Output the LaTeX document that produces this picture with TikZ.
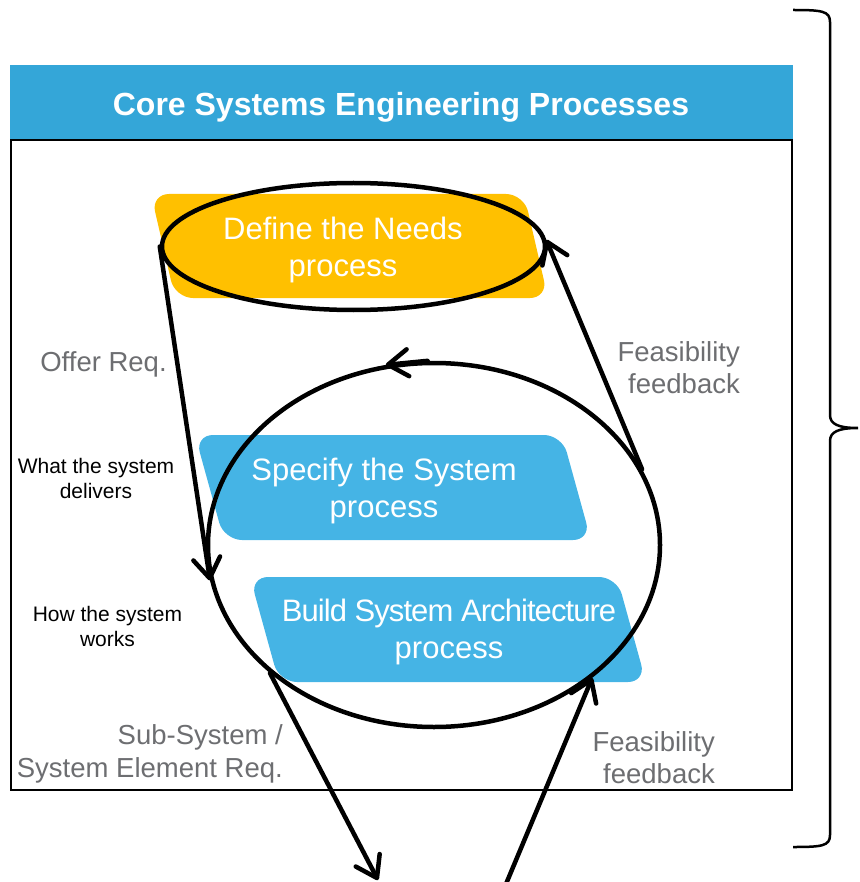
\documentclass[tikz,border=0pt]{standalone}
\usepackage{fontspec}
\setmainfont{Liberation Sans}
\newfontfamily\tightsans[LetterSpace=-3]{Liberation Sans}
\usetikzlibrary{arrows.meta,shapes.geometric}
\definecolor{needsyellow}{HTML}{FFC000}
\definecolor{procblue}{HTML}{45B4E5}
\definecolor{headblue}{HTML}{34A6D8}
\definecolor{lblgray}{HTML}{6D6E71}
\pgfdeclarelayer{bg}
\pgfsetlayers{bg,main}

\begin{document}
\begin{tikzpicture}[x=1pt,y=-1pt,
        proc/.style={text=white,align=center,font=\fontsize{31}{37.5}\selectfont},
        lbl/.style={text=lblgray,inner sep=0pt,font=\fontsize{27.5}{32.5}\selectfont},
        note/.style={inner sep=0pt,align=center,font=\fontsize{21}{25}\selectfont},
        ring/.style={draw,ellipse,line width=4.5pt,inner sep=0pt},
        flow/.style={line width=4.5pt,line cap=round,-{Straight Barb[length=20pt,width=27pt,line cap=round,line join=round]}}]
        \useasboundingbox (0,0) rectangle (859,882);
        \fill[headblue] (10,65) rectangle (793,140);
        \draw[line width=2pt] (11,140) rectangle (792,790);
        \node (title) [text=white,font=\bfseries\fontsize{32}{38}\selectfont] at (401,107) {Core Systems Engineering Processes};
        \draw[line width=2.5pt] (793,10) .. controls (822,10) and (830,11) .. (830,22) -- (830,415)
                .. controls (830,424) and (838,428) .. (858,428) .. controls (838,428) and (830,432) .. (830,441)
                -- (830,835) .. controls (830,846) and (822,847) .. (793,847);
        \begin{pgfonlayer}{bg}
                \fill[needsyellow,rounded corners=18pt] (151,194) -- (524,194) -- (548,298) -- (175,298) -- cycle;
                \fill[procblue,rounded corners=18pt] (195,435) -- (562,435) -- (591,540) -- (224,540) -- cycle;
                \fill[procblue,rounded corners=18pt] (250,577) -- (617,577) -- (646,682) -- (279,682) -- cycle;
        \end{pgfonlayer}
        \node (needstxt) [proc] at (343,250) {Define the Needs\\process};
        \node (spectxt) [proc] at (384,491) {Specify the System\\process};
        \node (archtxt) [proc] at (449,632) {{\tightsans Build System Architecture}\\process};
        \node (offer) [lbl] at (103.5,364) {Offer Req.};
        \node (what) [note] at (96,478) {What the system\\delivers};
        \node (how) [note] at (107.5,626) {How the system\\works};
        \node (fbtop) [lbl,align=right,anchor=east] at (740,367.5) {Feasibility\\feedback};
        \node (fbbot) [lbl,align=right,anchor=east] at (715,757.5) {Feasibility\\feedback};
        \node (subreq) [lbl,align=right,anchor=east] at (283,754) {Sub-System /\\System Element Req.};
        \node (needs) [ring,minimum width=383pt,minimum height=127pt] at (353.5,246.5) {};
        \node (sys) [ring,minimum width=452pt,minimum height=364pt] at (434,545) {};
        \coordinate (subout) at (378,880);
        \coordinate (fbin) at (506,884);
        \draw (sys.92) edge [flow] (sys.105);
        \draw (needs.180) edge [flow] (sys.189);
        \draw (sys.20) edge [flow] (needs.2);
        \draw (sys.218) edge [flow] (subout);
        \draw (fbin) edge [flow] (sys.320);
\end{tikzpicture}
\end{document}
